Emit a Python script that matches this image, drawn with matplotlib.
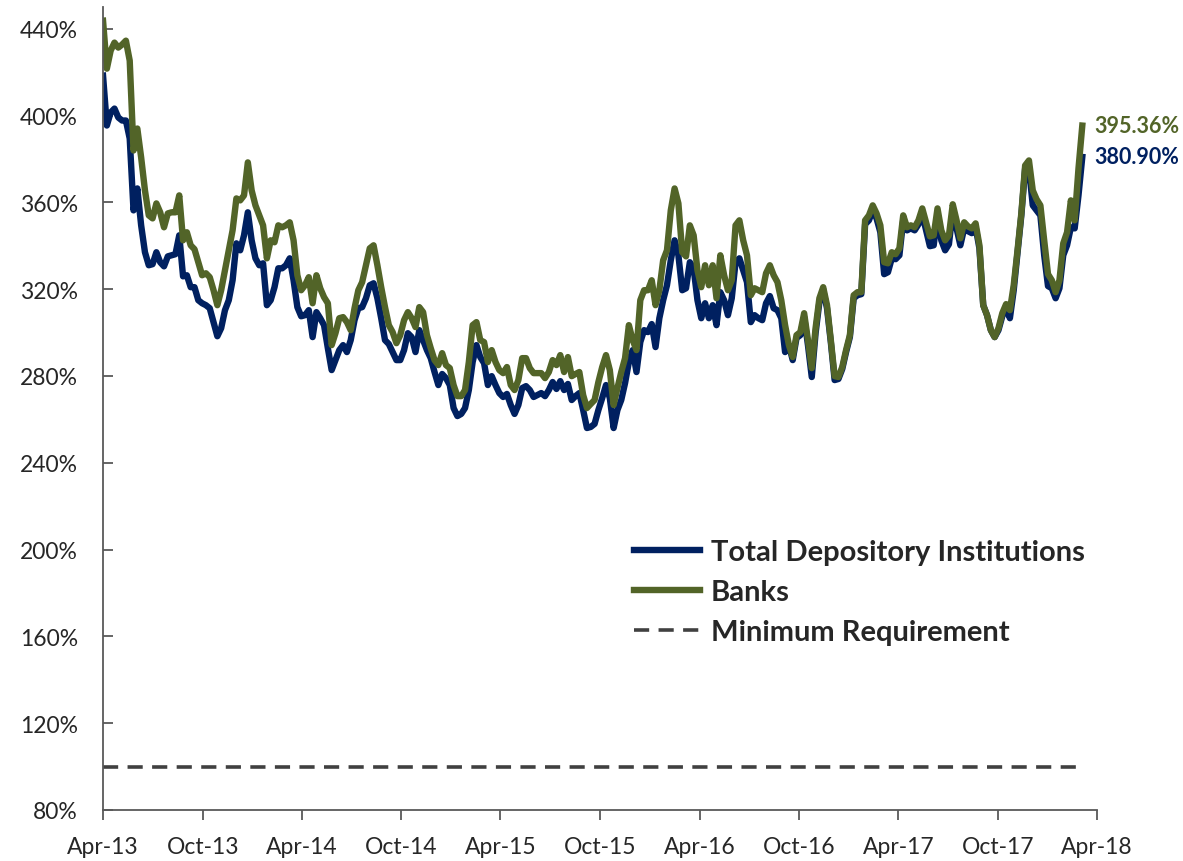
import matplotlib
matplotlib.use("Agg")
import matplotlib.pyplot as plt
import matplotlib.dates as mdates
import pandas as pd

# weekly liquidity coverage ratio (%), Apr-2013 .. Mar-2018
start_date = "2013-04-01"

total_depository = [
    418.4, 395.4, 401.4, 403.2, 399.1, 397.7, 397.7, 389.4, 356.3, 366.4,
    349.4, 337.0, 331.0, 331.5, 337.0, 332.4, 330.5, 335.1, 335.6, 336.1,
    344.8, 325.9, 326.4, 320.9, 320.9, 314.9, 313.5, 312.6, 311.2, 304.8,
    298.3, 302.0, 310.3, 314.9, 324.1, 341.1, 337.9, 344.8, 355.4, 342.5,
    334.2, 331.0, 331.9, 312.6, 314.9, 320.9, 329.6, 329.6, 331.0, 334.2,
    324.1, 311.7, 307.5, 308.0, 310.3, 297.9, 309.4, 306.6, 303.4, 292.8,
    282.7, 287.3, 291.9, 294.2, 291.0, 296.5, 305.7, 311.2, 311.7, 315.8,
    321.8, 322.7, 315.8, 306.6, 296.5, 294.7, 291.0, 287.3, 287.3, 291.9,
    299.7, 297.9, 291.0, 301.1, 296.5, 291.9, 288.2, 281.8, 275.8, 280.9,
    279.0, 275.8, 265.2, 261.5, 262.5, 265.2, 273.5, 286.4, 294.2, 288.7,
    285.9, 275.8, 279.9, 275.8, 272.1, 270.3, 271.7, 266.6, 262.5, 266.6,
    274.4, 275.3, 273.5, 270.3, 271.2, 272.1, 270.7, 273.5, 277.2, 274.0,
    277.6, 273.5, 276.3, 268.9, 270.7, 272.1, 264.3, 256.0, 256.5, 257.9,
    264.3, 269.8, 275.8, 269.8, 256.0, 264.3, 268.9, 276.7, 286.4, 291.9,
    281.8, 295.6, 301.1, 300.2, 303.9, 293.3, 306.6, 314.9, 321.8, 333.3,
    342.5, 335.6, 319.5, 320.4, 332.4, 329.6, 314.9, 306.6, 313.5, 306.6,
    312.6, 303.4, 318.6, 314.9, 308.0, 315.8, 332.4, 334.2, 328.7, 323.2,
    304.8, 308.0, 306.6, 305.7, 313.5, 316.8, 311.2, 310.3, 306.6, 291.0,
    294.2, 287.3, 297.5, 298.8, 307.1, 294.2, 279.5, 299.7, 314.0, 319.5,
    311.2, 295.6, 278.1, 278.6, 283.2, 291.0, 297.9, 315.8, 317.2, 317.7,
    349.9, 351.7, 356.3, 352.6, 346.2, 326.9, 327.8, 334.2, 333.8, 335.6,
    351.7, 347.1, 348.0, 347.1, 349.9, 354.5, 347.1, 339.8, 340.2, 354.5,
    342.5, 337.9, 340.7, 356.3, 348.0, 340.2, 348.0, 346.7, 345.8, 348.5,
    338.8, 312.6, 308.0, 301.1, 297.9, 301.1, 307.5, 311.2, 306.6, 319.5,
    337.0, 354.0, 375.6, 375.6, 358.6, 356.3, 354.0, 335.6, 321.4, 320.4,
    315.8, 320.4, 335.6, 340.2, 348.5, 348.0, 363.2, 380.90,
]

banks = [
    443.7, 421.6, 429.9, 433.6, 431.3, 432.7, 434.5, 425.3, 383.9, 394.0,
    380.7, 365.5, 354.0, 352.6, 359.5, 355.4, 348.5, 354.9, 355.4, 355.4,
    363.2, 342.5, 346.2, 340.2, 338.4, 332.4, 326.4, 327.3, 325.5, 319.5,
    312.6, 319.5, 328.7, 337.9, 347.1, 361.8, 360.9, 363.2, 378.4, 365.5,
    358.6, 354.0, 349.4, 334.2, 342.5, 341.6, 349.4, 348.5, 349.4, 350.8,
    342.5, 326.4, 319.5, 321.8, 325.5, 313.5, 326.4, 320.4, 316.3, 313.5,
    294.2, 299.7, 306.6, 307.1, 304.8, 301.1, 311.2, 319.5, 323.2, 331.0,
    338.8, 340.2, 331.0, 320.9, 311.7, 303.4, 300.2, 295.1, 298.8, 305.7,
    309.4, 306.6, 302.5, 311.7, 309.4, 298.8, 292.8, 287.3, 285.0, 290.5,
    285.0, 283.6, 275.8, 270.7, 270.7, 273.5, 286.4, 303.4, 304.8, 296.5,
    295.6, 286.4, 291.9, 286.4, 282.7, 281.3, 284.1, 275.8, 273.5, 278.1,
    288.2, 288.2, 283.6, 281.3, 281.3, 281.3, 279.0, 281.8, 287.3, 285.0,
    289.6, 281.8, 288.7, 279.9, 280.9, 281.8, 271.2, 265.2, 267.1, 268.9,
    277.2, 284.1, 289.6, 282.7, 266.6, 274.4, 281.8, 288.2, 303.4, 296.5,
    291.9, 314.9, 319.5, 319.5, 324.1, 312.6, 319.5, 333.3, 337.9, 356.3,
    366.4, 359.5, 337.0, 335.1, 349.4, 344.8, 328.7, 320.9, 331.0, 321.8,
    331.0, 315.8, 335.6, 326.4, 319.5, 324.1, 349.4, 351.7, 342.5, 335.6,
    317.2, 320.4, 319.5, 318.6, 327.3, 331.0, 326.4, 323.2, 314.9, 303.4,
    294.2, 288.7, 298.8, 300.2, 308.9, 296.5, 283.6, 302.0, 315.8, 320.9,
    312.6, 296.5, 279.9, 279.5, 284.1, 291.9, 298.8, 317.2, 318.6, 318.6,
    351.7, 354.0, 358.6, 354.9, 349.4, 332.4, 331.9, 337.0, 336.1, 338.8,
    354.0, 348.5, 349.4, 348.5, 351.7, 357.2, 350.8, 344.3, 344.8, 357.2,
    347.1, 342.5, 344.8, 359.1, 351.7, 343.4, 350.8, 348.9, 348.0, 350.3,
    340.2, 312.6, 308.0, 301.1, 297.9, 302.0, 308.9, 313.1, 310.3, 321.8,
    337.9, 354.9, 377.0, 379.3, 365.5, 361.4, 358.6, 342.5, 326.9, 324.1,
    318.6, 324.1, 341.1, 346.2, 360.9, 351.7, 375.6, 395.36,
]

minimum_requirement = 100
y_ticks = [80, 120, 160, 200, 240, 280, 320, 360, 400, 440]

blue = "#002060"
green = "#526428"
grey = "#404040"
fonts = ['Lato', 'DejaVu Sans']

dates = pd.date_range(start_date, periods=len(banks), freq="7D")

fig = plt.figure(figsize=(11.83, 8.62), dpi=100)
ax = fig.add_axes([0.0871, 0.0592, 0.8402, 0.9315])
plt.rcParams['font.family'] = fonts

ax.plot(dates, [minimum_requirement] * len(dates), color=grey, lw=2.6,
        dashes=(4.2, 2.6), label="Minimum Requirement")
ax.plot(dates, total_depository, color=blue, lw=4.6, solid_joinstyle="round",
        label="Total Depository Institutions")
ax.plot(dates, banks, color=green, lw=4.6, solid_joinstyle="round", label="Banks")

ax.set_ylim(80, 450)
ax.set_xlim(pd.Timestamp("2013-04-01"), pd.Timestamp("2018-04-01"))
ax.set_yticks(y_ticks)
ax.set_yticklabels([f"{t}%" for t in y_ticks])
ax.xaxis.set_major_locator(mdates.MonthLocator(bymonth=[4, 10]))
ax.xaxis.set_major_formatter(mdates.DateFormatter("%b-%y"))

for s in ["top", "right"]:
    ax.spines[s].set_visible(False)
for s in ["left", "bottom"]:
    ax.spines[s].set_color("#595959")
    ax.spines[s].set_linewidth(1.3)
ax.tick_params(axis="y", direction="in", length=7, width=1.3, color="#595959",
               labelsize=16.5, labelcolor="#262626", pad=18)
ax.tick_params(axis="x", direction="out", length=7, width=1.3, color="#595959",
               labelsize=16.5, labelcolor="#262626", pad=12)
for lab in ax.get_yticklabels() + ax.get_xticklabels():
    lab.set_family(fonts)

# end-of-series labels
ax.annotate(f"{banks[-1]:.2f}%", (dates[-1], banks[-1]), xytext=(9, 0),
            textcoords="offset points", color=green, fontsize=15.5,
            fontweight="bold", va="center", family=fonts,
            annotation_clip=False)
ax.annotate(f"{total_depository[-1]:.2f}%", (dates[-1], total_depository[-1]),
            xytext=(9, 0), textcoords="offset points", color=blue, fontsize=15.5,
            fontweight="bold", va="center", family=fonts,
            annotation_clip=False)

handles, labels = ax.get_legend_handles_labels()
order = [1, 2, 0]
leg = fig.legend([handles[i] for i in order], [labels[i] for i in order],
                 loc="upper left", bbox_to_anchor=(0.536, 0.3735), frameon=False,
                 prop={"family": fonts, "weight": "bold", "size": 21},
                 handlelength=2.27, handletextpad=0.35, labelspacing=0.48,
                 borderpad=0, borderaxespad=0)
for t in leg.get_texts():
    t.set_color("#262626")

fig.savefig("out.png", dpi=100)
